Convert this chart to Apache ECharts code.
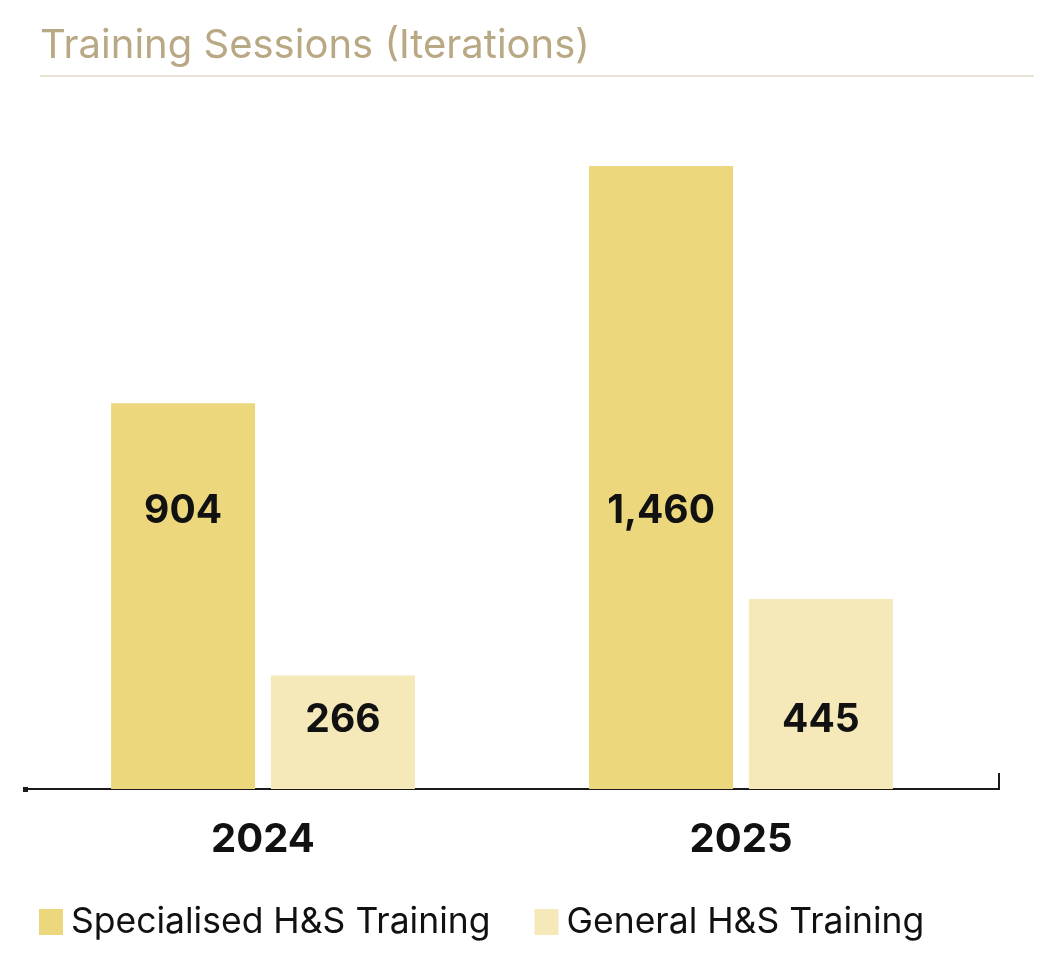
<!DOCTYPE html>
<html>
<head>
<meta charset="utf-8">
<script src="https://cdn.jsdelivr.net/npm/echarts@6/dist/echarts.min.js"></script>
<style>
html,body{margin:0;padding:0;background:#fff;}
#chart{width:1059px;height:962px;}
</style>
</head>
<body>
<div id="chart"></div>
<script>
const titleText = "Training Sessions (Iterations)";
const categories = ["2024", "2025"];
const seriesNames = ["Specialised H&S Training", "General H&S Training"];
const specialised = [904, 1460];
const general = [266, 445];

const FONT = "Inter, 'DejaVu Sans', sans-serif";
const chart = echarts.init(document.getElementById('chart'));

chart.setOption({
  animation: false,
  backgroundColor: '#ffffff',
  title: {
    text: titleText,
    left: 35,
    top: 21,
    textStyle: { fontFamily: FONT, fontSize: 40, fontWeight: 'normal', color: '#B8A883' }
  },
  legend: {
    left: 39,
    top: 904,
    padding: 0,
    icon: 'rect',
    itemWidth: 24,
    itemHeight: 26,
    itemGap: 44,
    textStyle: { fontFamily: FONT, fontSize: 35.5, lineHeight: 26, color: '#111111', padding: [0, 0, 0, 3] },
    data: seriesNames
  },
  grid: { left: 24, right: 79, top: 166, bottom: 173 },
  xAxis: {
    type: 'category',
    data: categories,
    axisLine: { show: true, lineStyle: { color: '#1a1a1a', width: 2 } },
    axisTick: { show: false },
    axisLabel: { fontFamily: FONT, fontSize: 40, fontWeight: 'bold', color: '#111111', margin: 31 }
  },
  yAxis: {
    type: 'value',
    min: 0,
    max: 1460,
    show: false,
    splitLine: { show: false }
  },
  series: [
    {
      name: seriesNames[0],
      type: 'bar',
      data: specialised,
      barWidth: 144,
      barGap: '11%',
      itemStyle: { color: '#EDD77D' },
      label: {
        show: true,
        position: 'insideBottom',
        distance: 258,
        fontFamily: FONT, fontSize: 39, fontWeight: 'bold', color: '#111111', lineHeight: 40,
        formatter: p => p.value.toLocaleString('en-US')
      }
    },
    {
      name: seriesNames[1],
      type: 'bar',
      data: general,
      barWidth: 144,
      barGap: '11%',
      itemStyle: { color: '#F5E8B9' },
      label: {
        show: true,
        position: 'insideBottom',
        distance: 49,
        fontFamily: FONT, fontSize: 39, fontWeight: 'bold', color: '#111111', lineHeight: 40,
        formatter: p => p.value.toLocaleString('en-US')
      }
    }
  ],
  graphic: [
    { type: 'line', shape: { x1: 40, y1: 76, x2: 1034, y2: 76 }, style: { stroke: '#E3DACB', lineWidth: 1.5 } },
    { type: 'line', shape: { x1: 979, y1: 789, x2: 999, y2: 789 }, style: { stroke: '#1a1a1a', lineWidth: 2 } },
    { type: 'line', shape: { x1: 999, y1: 773, x2: 999, y2: 790 }, style: { stroke: '#1a1a1a', lineWidth: 2 } },
    { type: 'rect', shape: { x: 23, y: 787, width: 5, height: 5 }, style: { fill: '#1a1a1a' } }
  ]
});
</script>
</body>
</html>
